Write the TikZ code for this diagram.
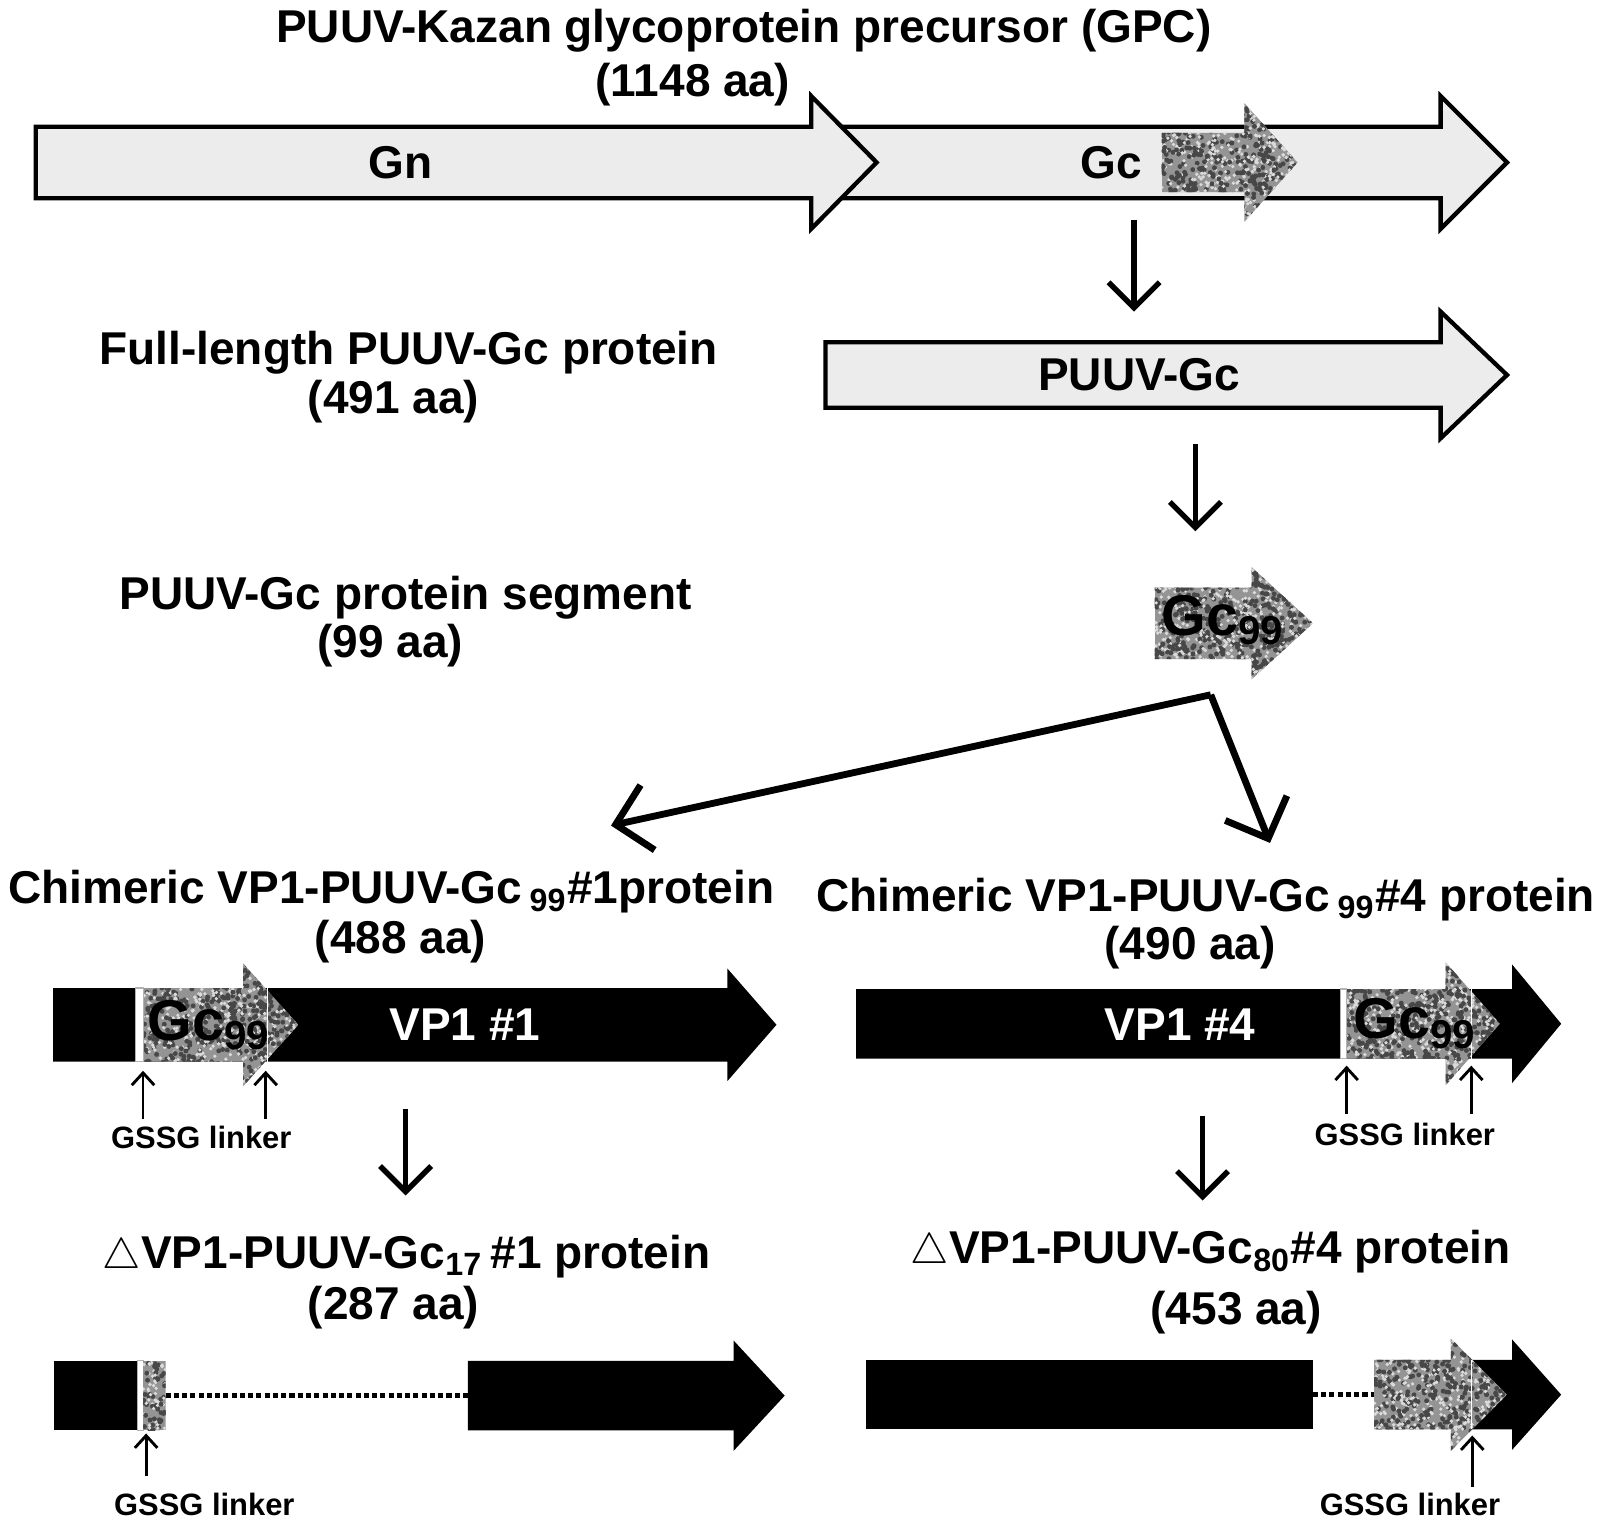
\documentclass[tikz,border=0pt]{standalone}
\usepackage{fontspec}
\setmainfont{Liberation Sans}
\usetikzlibrary{arrows.meta}
% block arrow: x start, x head, x tip, y centre, half shaft, half head
\newcommand{\blockarrow}[6]{(#1,{#4-#5}) -- (#2,{#4-#5}) -- (#2,{#4-#6}) -- (#3,#4) -- (#2,{#4+#6}) -- (#2,{#4+#5}) -- (#1,{#4+#5}) -- cycle}
% speckled fill: outline, x0, x1, y0, y1
\newcommand{\speckle}[5]{%
	\begin{scope}
		\clip #1;
		\fill[black!42] (#2,#4) rectangle (#3,#5);
		\pgfmathtruncatemacro\nspk{((#3-#2)/8)*((#5-#4)/4)}
		\foreach \k in {1,...,\nspk}{
			\fill[black!72] ({#2+rnd*(#3-#2)},{#4+rnd*(#5-#4)}) circle[radius=0.024cm];
			\fill[black!14] ({#2+rnd*(#3-#2)},{#4+rnd*(#5-#4)}) circle[radius=0.018cm];
		}
	\end{scope}}
\begin{document}
\begin{tikzpicture}[x=0.01cm, y=-0.01cm, line join=miter,
	txt/.style={font=\bfseries\fontsize{12.8}{15}\selectfont, inner sep=0pt},
	tag/.style={font=\bfseries\fontsize{8.6}{10}\selectfont, inner sep=0pt},
	gclabel/.style={font=\bfseries\fontsize{16}{18}\selectfont, inner sep=0pt},
	pale/.style={draw=black, line width=1.2pt, fill=gray!15},
	vp/.style={fill=black},
	linker/.style={fill=white, draw=gray!60, line width=0.3pt},
	stepdown/.style={line width=1.5pt, -{Straight Barb[length=2.5mm, width=5mm]}},
	branch/.style={line width=1.9pt, -{Straight Barb[length=3.2mm, width=6.5mm]}},
	pointer/.style={line width=0.8pt, -{Straight Barb[length=1.2mm, width=2.2mm]}},
	gap/.style={line width=1.4pt, dash pattern=on 1.4pt off 0.9pt}]
	\pgfmathsetseed{4711}
	\useasboundingbox (0,0) rectangle (1566,1502);
	
	% precursor
	\node[txt] (gpc) at (728,30) {PUUV-Kazan glycoprotein precursor (GPC)};
	\node[txt] (gpcaa) at (678,83) {(1148 aa)};
	\path[pale] \blockarrow{800}{1410}{1475}{159}{35}{65};
	\path[pale] \blockarrow{35}{794}{858}{159}{35}{65};
	\speckle{\blockarrow{1137}{1218}{1270}{159}{29}{58}}{1137}{1270}{100}{218}
	\node[txt] (gn) at (392,159) {Gn};
	\node[txt] (gc) at (1088,159) {Gc};
	
	% full length Gc
	\node[txt] (full) at (400,345) {Full-length PUUV-Gc protein};
	\node[txt] (fullaa) at (385,393) {(491 aa)};
	\path[pale] \blockarrow{808}{1410}{1475}{367}{32}{62};
	\node[txt] (pgc) at (1115,367) {PUUV-Gc};
	
	% segment
	\node[txt] (seg) at (397,585) {PUUV-Gc protein segment};
	\node[txt] (segaa) at (382,632) {(99 aa)};
	\speckle{\blockarrow{1130}{1225}{1285}{610}{35}{55}}{1130}{1285}{555}{665}
	\node[gclabel] (gcseg) at (1197,607) {Gc\textsubscript{99}};
	
	% chimeric #1
	\node[txt] (chima) at (383,873) {Chimeric VP1-PUUV-Gc\,\textsubscript{99}\#1protein};
	\node[txt] (chimaaa) at (392,922) {(488 aa)};
	\path[vp] \blockarrow{52}{712}{760}{1003}{36}{55};
	\speckle{\blockarrow{140}{238}{292}{1003}{36}{60}}{140}{292}{943}{1063}
	\path[linker] (133,967) rectangle (140,1039);
	\draw[white, line width=0.4pt] (262,967) -- (262,1039);
	\node[gclabel] (gca) at (205,1003) {Gc\textsubscript{99}};
	\node[txt, text=white] (vpa) at (455,1003) {VP1 \#1};
	\node[tag] (linka) at (197,1113) {GSSG linker};
	
	% chimeric #4
	\node[txt] (chimb) at (1180,880) {Chimeric VP1-PUUV-Gc\,\textsubscript{99}\#4 protein};
	\node[txt] (chimbaa) at (1165,927) {(490 aa)};
	\path[vp] \blockarrow{838}{1480}{1528}{1002}{34}{58};
	\speckle{\blockarrow{1318}{1415}{1468}{1002}{34}{60}}{1318}{1468}{942}{1062}
	\path[linker] (1312,968) rectangle (1318,1036);
	\draw[white, line width=0.4pt] (1440,968) -- (1440,1036);
	\node[gclabel] (gcb) at (1385,1002) {Gc\textsubscript{99}};
	\node[txt, text=white] (vpb) at (1155,1003) {VP1 \#4};
	\node[tag] (linkb) at (1375,1110) {GSSG linker};
	
	% truncated #1
	\node[txt] (dela) at (398,1230) {\(\triangle\)VP1-PUUV-Gc\textsubscript{17}\,\#1 protein};
	\node[txt] (delaaa) at (385,1280) {(287 aa)};
	\path[vp] (53,1332) rectangle (135,1400);
	\path[linker] (135,1332) rectangle (140,1400);
	\speckle{(140,1332) rectangle (162,1400)}{140}{162}{1332}{1400}
	\path[vp] \blockarrow{458}{718}{768}{1366}{34}{54};
	\node[tag] (linkc) at (200,1472) {GSSG linker};
	
	% truncated #4
	\node[txt] (delb) at (1185,1225) {\(\triangle\)VP1-PUUV-Gc\textsubscript{80}\#4 protein};
	\node[txt] (delbaa) at (1210,1285) {(453 aa)};
	\path[vp] (848,1331) rectangle (1285,1399);
	\path[vp] \blockarrow{1420}{1480}{1528}{1365}{34}{54};
	\speckle{\blockarrow{1345}{1420}{1475}{1365}{34}{55}}{1345}{1475}{1310}{1420}
	\draw[white, line width=0.4pt] (1440,1331) -- (1440,1399);
	\node[tag] (linkd) at (1380,1472) {GSSG linker};
	
	% connectors
	\coordinate (gapa1) at (162,1366); \coordinate (gapa2) at (458,1366);
	\coordinate (gapb1) at (1285,1365); \coordinate (gapb2) at (1345,1365);
	\draw[gap] (gapa1) -- (gapa2);
	\draw[gap] (gapb1) -- (gapb2);
	\coordinate (s1) at (1110,215); \coordinate (e1) at (1110,305);
	\coordinate (s2) at (1170,435); \coordinate (e2) at (1170,520);
	\coordinate (fork) at (1185,680);
	\coordinate (ea) at (598,808); \coordinate (eb) at (1243,825);
	\coordinate (s3) at (397,1085); \coordinate (e3) at (397,1170);
	\coordinate (s4) at (1177,1092); \coordinate (e4) at (1177,1175);
	\draw[stepdown] (s1) -- (e1);
	\draw[stepdown] (s2) -- (e2);
	\draw[branch] (fork) -- (ea);
	\draw[branch] (fork) -- (eb);
	\draw[stepdown] (s3) -- (e3);
	\draw[stepdown] (s4) -- (e4);
	\foreach \x/\a/\b in {140/1095/1048, 260/1095/1048, 1318/1090/1043, 1440/1090/1043, 143/1445/1403, 1441/1455/1405}
	\draw[pointer] (\x,\a) -- (\x,\b);
\end{tikzpicture}
\end{document}
